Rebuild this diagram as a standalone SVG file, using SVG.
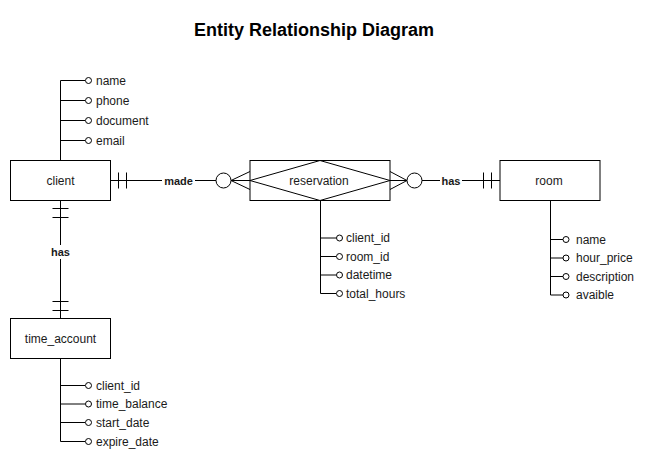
<svg xmlns="http://www.w3.org/2000/svg" width="650" height="461" viewBox="0 0 650 461">
<style>
.box{fill:#fff;stroke:#000;stroke-width:1}
.ln{fill:none;stroke:#000;stroke-width:1}
.dot{fill:#fff;stroke:#000;stroke-width:1}
.t{font-family:"Liberation Sans",Arial,sans-serif;font-size:12px;fill:#1a1a1a}
.c{text-anchor:middle}
.lbl{font-family:"Liberation Sans",Arial,sans-serif;font-size:11px;font-weight:bold;fill:#1a1a1a;text-anchor:middle}
.title{font-family:"Liberation Sans",Arial,sans-serif;font-size:18px;font-weight:bold;fill:#000;text-anchor:middle}
</style>
<rect width="650" height="461" fill="#fff"/>
<text class="title" x="314" y="36">Entity Relationship Diagram</text>

<g id="connectors">
  <!-- client - reservation (made) -->
  <path class="ln" d="M110.5 180.5H216"/>
  <path class="ln" d="M118.5 172.5V188.5M126.5 172.5V188.5"/>
  <circle class="dot" cx="223.5" cy="180.5" r="7.5"/>
  <path class="ln" d="M231 180.5L250 171.5M231 180.5L250 180.5M231 180.5L250 189.5"/>
  <rect x="162" y="173" width="33" height="14" fill="#fff"/>
  <text class="lbl" x="178.5" y="184.5">made</text>

  <!-- reservation - room (has) -->
  <path class="ln" d="M390 171.5L407 180.5M390 180.5L407 180.5M390 189.5L407 180.5"/>
  <circle class="dot" cx="414.5" cy="180.5" r="7.5"/>
  <path class="ln" d="M422 180.5H500"/>
  <path class="ln" d="M483.5 172.5V188.5M491.5 172.5V188.5"/>
  <rect x="440" y="173" width="22" height="14" fill="#fff"/>
  <text class="lbl" x="451" y="184.5">has</text>

  <!-- client - time_account (has) -->
  <path class="ln" d="M60.5 200V318"/>
  <path class="ln" d="M52.5 208.5H68.5M52.5 217.5H68.5M52.5 301.5H68.5M52.5 310.5H68.5"/>
  <rect x="49" y="245" width="23" height="14" fill="#fff"/>
  <text class="lbl" x="60.5" y="256">has</text>

  <!-- client attributes -->
  <path class="ln" d="M60.5 160V80.5H85M60.5 100.5H85M60.5 120.5H85M60.5 140.5H85"/>
  <!-- reservation attributes -->
  <path class="ln" d="M320.5 200V293.5H336M320.5 238H336M320.5 256.5H336M320.5 275H336"/>
  <!-- room attributes -->
  <path class="ln" d="M550.5 200V295H563M550.5 239.5H563M550.5 258H563M550.5 276.5H563"/>
  <!-- time_account attributes -->
  <path class="ln" d="M60.5 358V441.5H85M60.5 385.5H85M60.5 404H85M60.5 422.5H85"/>
</g>

<g id="client">
  <rect class="box" x="10.5" y="160.5" width="100" height="40"/>
  <text class="t c" x="60.5" y="184.5">client</text>
</g>
<g id="client-attrs">
  <circle class="dot" cx="88.5" cy="80.5" r="3"/><text class="t" x="96" y="84.5">name</text>
  <circle class="dot" cx="88.5" cy="100.5" r="3"/><text class="t" x="96" y="104.5">phone</text>
  <circle class="dot" cx="88.5" cy="120.5" r="3"/><text class="t" x="96" y="124.5">document</text>
  <circle class="dot" cx="88.5" cy="140.5" r="3"/><text class="t" x="96" y="144.5">email</text>
</g>

<g id="reservation">
  <rect class="box" x="250" y="160.5" width="140" height="40"/>
  <path class="ln" d="M250 180.5L320 160.5L390 180.5L320 200.5Z"/>
  <text class="t c" x="319" y="184.5">reservation</text>
</g>
<g id="reservation-attrs">
  <circle class="dot" cx="339.5" cy="238" r="3"/><text class="t" x="346" y="242">client_id</text>
  <circle class="dot" cx="339.5" cy="256.5" r="3"/><text class="t" x="346" y="260.5">room_id</text>
  <circle class="dot" cx="339.5" cy="275" r="3"/><text class="t" x="346" y="279">datetime</text>
  <circle class="dot" cx="339.5" cy="293.5" r="3"/><text class="t" x="346" y="297.5">total_hours</text>
</g>

<g id="room">
  <rect class="box" x="500" y="160.5" width="100" height="40"/>
  <text class="t c" x="549" y="184.5">room</text>
</g>
<g id="room-attrs">
  <circle class="dot" cx="566" cy="239.5" r="3"/><text class="t" x="576" y="243.5">name</text>
  <circle class="dot" cx="566" cy="258" r="3"/><text class="t" x="576" y="262">hour_price</text>
  <circle class="dot" cx="566" cy="276.5" r="3"/><text class="t" x="576" y="280.5">description</text>
  <circle class="dot" cx="566" cy="295" r="3"/><text class="t" x="576" y="299">avaible</text>
</g>

<g id="time_account">
  <rect class="box" x="10.5" y="318.5" width="100" height="40"/>
  <text class="t c" x="60.5" y="342.5">time_account</text>
</g>
<g id="time_account-attrs">
  <circle class="dot" cx="88.5" cy="385.5" r="3"/><text class="t" x="96" y="389.5">client_id</text>
  <circle class="dot" cx="88.5" cy="404" r="3"/><text class="t" x="96" y="408">time_balance</text>
  <circle class="dot" cx="88.5" cy="422.5" r="3"/><text class="t" x="96" y="426.5">start_date</text>
  <circle class="dot" cx="88.5" cy="441.5" r="3"/><text class="t" x="96" y="445.5">expire_date</text>
</g>
</svg>
